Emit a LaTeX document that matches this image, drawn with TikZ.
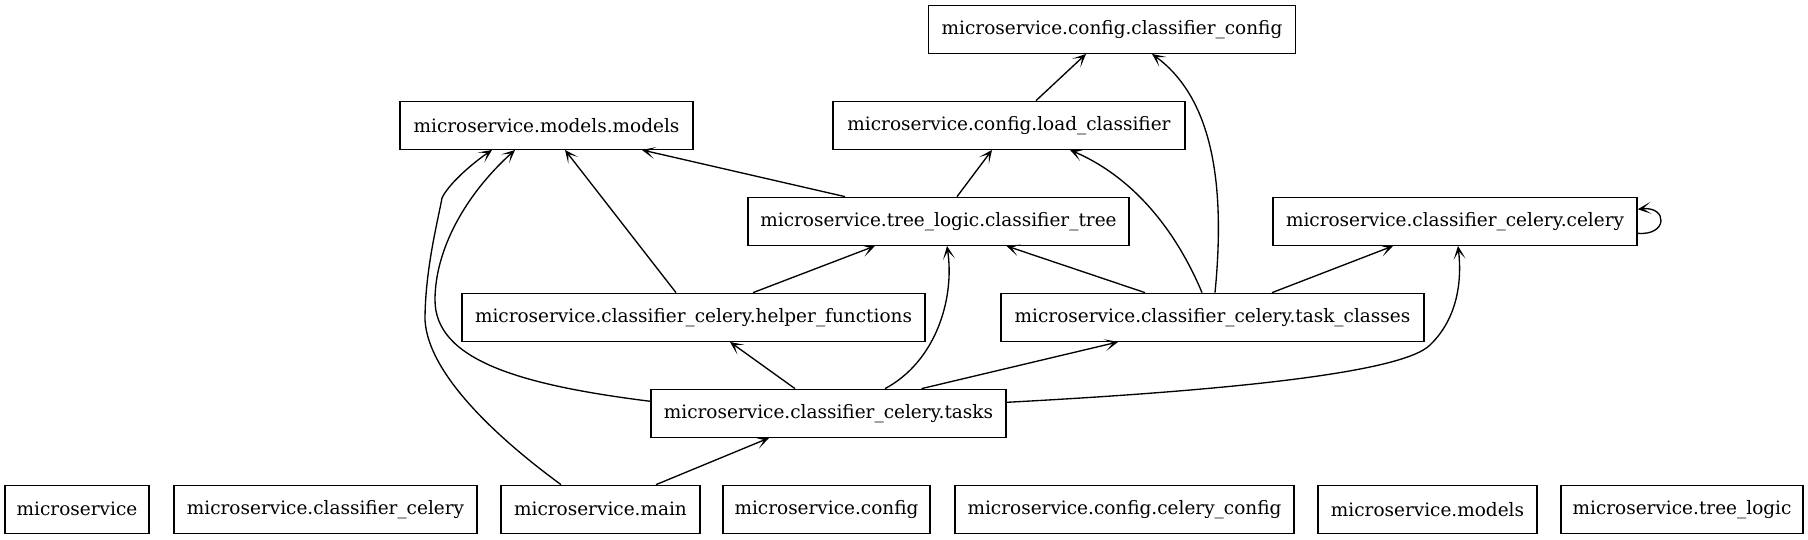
\documentclass[tikz,border=0pt]{standalone}
\usepackage{fontspec}
\setmainfont{DejaVu Serif}
\usetikzlibrary{arrows.meta,calc}
\tikzset{
  box/.style={draw, line width=1pt, rectangle, inner sep=0pt, minimum height=36pt,
    font=\fontsize{13.85}{16}\selectfont, anchor=center},
  dep/.style={draw, line width=1pt, -{Stealth[length=10pt,width=9pt,inset=6pt]}},
}
\begin{document}
\begin{tikzpicture}[x=0.75pt,y=-0.75pt]
\useasboundingbox (0,0) rectangle (1808,539);
% rank 0
\node[box, minimum width=367*0.75pt] (cfg) at (1112,29.3) {microservice.config.classifier\_config};
% rank 1
\node[box, minimum width=293*0.75pt] (mm) at (546.5,125.3) {microservice.models.models};
\node[box, minimum width=352*0.75pt] (lc) at (1009,125.3) {microservice.config.load\_classifier};
% rank 2
\node[box, minimum width=381*0.75pt] (ct) at (938.5,221.3) {microservice.tree\_logic.classifier\_tree};
\node[box, minimum width=364*0.75pt] (cc) at (1455,221.3) {microservice.classifier\_celery.celery};
% rank 3
\node[box, minimum width=463*0.75pt] (hf) at (693.5,317.3) {microservice.classifier\_celery.helper\_functions};
\node[box, minimum width=423*0.75pt] (tc) at (1212.5,317.3) {microservice.classifier\_celery.task\_classes};
% rank 4
\node[box, minimum width=355*0.75pt] (tasks) at (828.5,413.3) {microservice.classifier\_celery.tasks};
% rank 5
\node[box, minimum width=144*0.75pt] (ms) at (77,509.3) {microservice};
\node[box, minimum width=303*0.75pt] (mcc) at (325.5,509.3) {microservice.classifier\_celery};
\node[box, minimum width=199*0.75pt] (main) at (600.5,509.3) {microservice.main};
\node[box, minimum width=207*0.75pt] (config) at (826.5,509.3) {microservice.config};
\node[box, minimum width=339*0.75pt] (ccfg) at (1124.5,509.3) {microservice.config.celery\_config};
\node[box, minimum width=219*0.75pt] (models) at (1427.5,509.3) {microservice.models};
\node[box, minimum width=242*0.75pt] (tl) at (1682,509.3) {microservice.tree\_logic};

% straight edges
\draw[dep] ($(lc.north)+(27,0)$) -- ($(cfg.south)+(-26,0)$);
\draw[dep] ($(ct.north)+(-93.5,0)$) -- ($(mm.south)+(95.5,0)$);
\draw[dep] ($(ct.north)+(18.5,0)$) -- ($(lc.south)+(-17,0)$);
\draw[dep] ($(hf.north)+(-17.5,0)$) -- ($(mm.south)+(18.5,0)$);
\draw[dep] ($(hf.north)+(59.5,0)$) -- ($(ct.south)+(-63.5,0)$);
\draw[dep] ($(tc.north)+(-67.5,0)$) -- ($(ct.south)+(68,0)$);
\draw[dep] ($(tc.north)+(59.5,0)$) -- ($(cc.south)+(-62,0)$);
\draw[dep] ($(tasks.north)+(-33.5,0)$) -- ($(hf.south)+(36.5,0)$);
\draw[dep] ($(tasks.north)+(93,0)$) -- ($(tc.south)+(-94.5,0)$);
\draw[dep] ($(main.north)+(55.5,0)$) -- ($(tasks.south)+(-59.5,0)$);

% curved edges
\draw[dep] ($(tc.north)+(-10.5,0)$) .. controls (1180,240) and (1140,180) .. ($(lc.south)+(61,0)$);
\draw[dep] ($(tc.north)+(2.5,0)$) .. controls (1225,190) and (1215,100) .. ($(cfg.south)+(40,0)$);
\draw[dep] ($(cc.east)+(0,12)$) .. controls (1668,236) and (1668,206) .. ($(cc.east)+(0,-12)$);
\draw[dep] ($(tasks.north)+(56.5,0)$) .. controls (935,362) and (955,300) .. ($(ct.south)+(8.5,0)$);
\draw[dep] ($(tasks.east)+(0,-11)$) .. controls (1200,392) and (1400,375) .. (1430,345)
  .. controls (1458,318) and (1462,280) .. ($(cc.south)+(3,0)$);
\draw[dep] ($(tasks.west)+(0,-12)$) .. controls (520,385) and (435,360) .. (435,300)
  .. controls (435,250) and (465,195) .. ($(mm.south)+(-31.5,0)$);
\draw[dep] ($(main.north)+(-39.5,0)$) .. controls (500,440) and (428,375) .. (425,320)
  .. controls (425,270) and (438,220) .. (442,198)
  .. controls (448,185) and (470,165) .. ($(mm.south)+(-54.5,0)$);
\end{tikzpicture}
\end{document}
